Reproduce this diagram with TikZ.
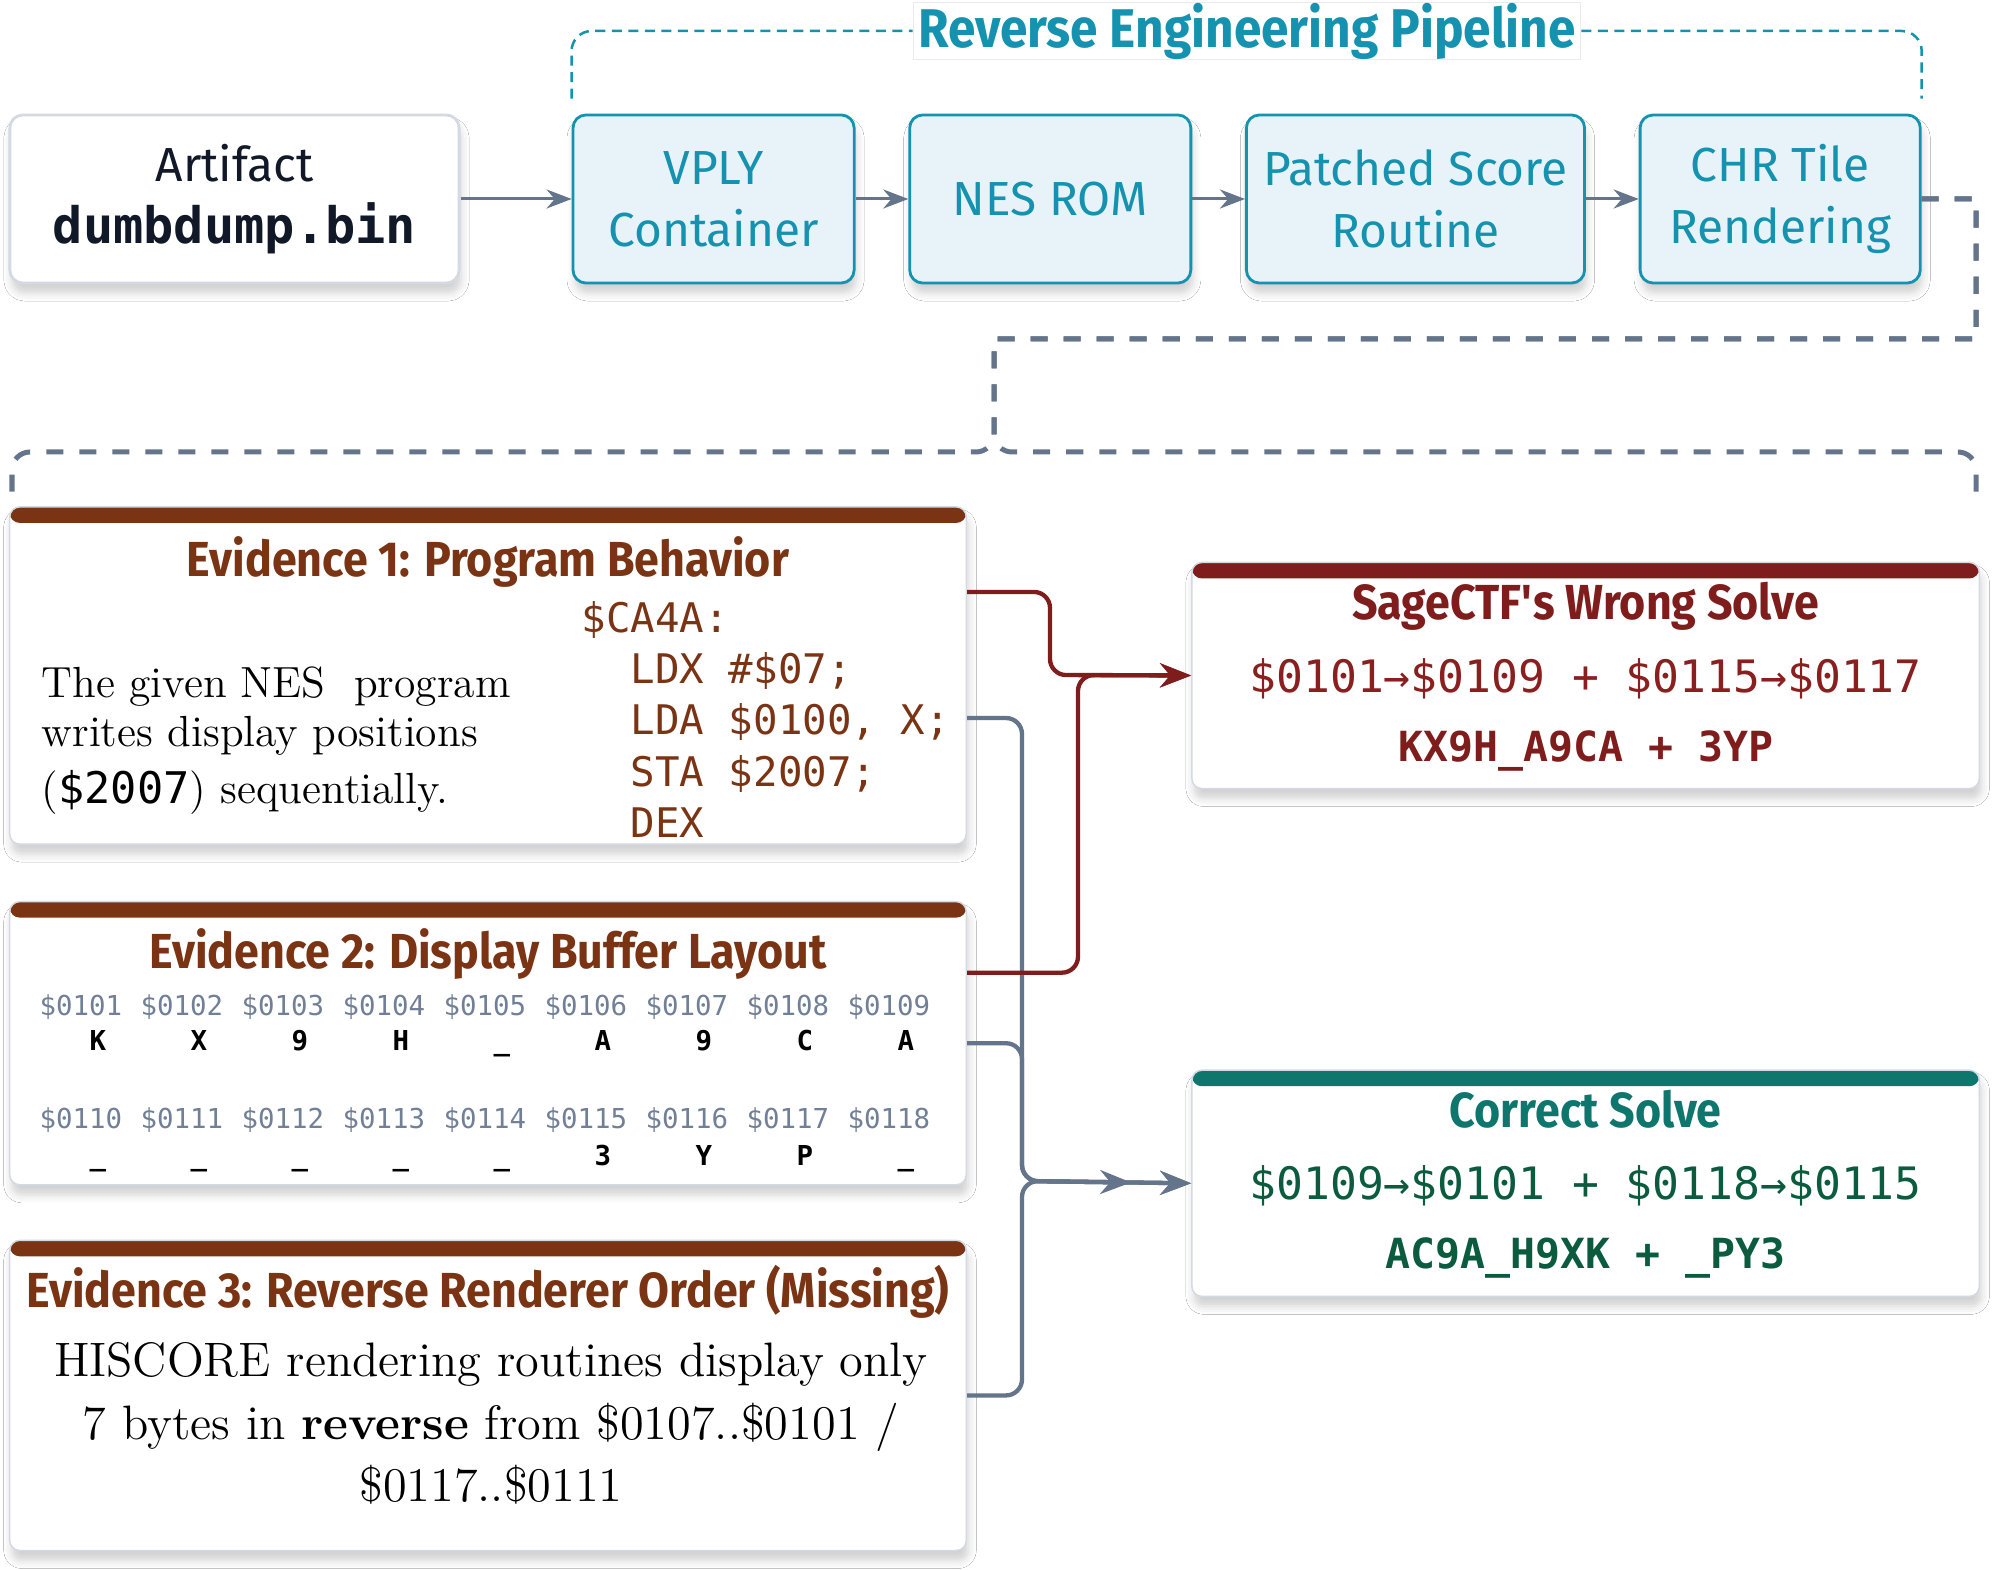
\documentclass[tikz,border=0pt]{standalone}
\usepackage{fontspec}
\setmainfont{Latin Modern Roman}
\setsansfont{Fira Sans}
\setmonofont{DejaVu Sans Mono}
\newfontfamily\headfont[FakeStretch=0.91]{Fira Sans}
\usetikzlibrary{arrows.meta,positioning,calc,shadows.blur}
\definecolor{pipeteal}{HTML}{1592AF}
\definecolor{pipefill}{HTML}{E7F3F8}
\definecolor{linkgray}{HTML}{64748B}
\definecolor{cardline}{HTML}{D3DAE3}
\definecolor{evbrown}{HTML}{7A3413}
\definecolor{wrongred}{HTML}{7F1D1D}
\definecolor{wrongcode}{HTML}{8A1F1F}
\definecolor{rightteal}{HTML}{0F766E}
\definecolor{rightgreen}{HTML}{0B5B3F}
\definecolor{addrgray}{HTML}{718096}
\definecolor{inkdark}{HTML}{111827}

\begin{document}
\begin{tikzpicture}[
 x=0.01cm,y=-0.01cm,
 >=Stealth,font=\sffamily,
 softshadow/.style={blur shadow={shadow xshift=0.02cm,shadow yshift=-0.1cm,
   shadow blur radius=0.08cm,shadow opacity=18}},
 stage/.style={draw=pipeteal,fill=pipefill,line width=0.028cm,rounded corners=0.13cm,
   minimum height=1.68cm,align=center,text=pipeteal,inner sep=0pt,
   font=\sffamily\fontsize{13.6}{17.6}\selectfont,softshadow},
 artbox/.style={stage,draw=cardline,fill=white,text=inkdark},
 card/.style={draw=cardline,fill=white,line width=0.015cm,rounded corners=0.1cm,softshadow,
   path picture={\fill[#1] (path picture bounding box.north west) rectangle
     ([yshift=-0.16cm]path picture bounding box.north east);}},
 cardtitle/.style={anchor=base,inner sep=0pt,font=\headfont\bfseries\fontsize{14}{17}\selectfont},
 pipedash/.style={pipeteal,line width=0.025cm,dash pattern=on 0.1cm off 0.065cm,rounded corners=0.2cm},
 groupdash/.style={linkgray,line width=0.05cm,dash pattern=on 0.17cm off 0.16cm},
 pipeflow/.style={->,linkgray,line width=0.03cm,>={Stealth[length=0.25cm,width=0.19cm]}},
 link/.style={->,line width=0.043cm,rounded corners=0.16cm,>={Stealth[length=0.31cm,width=0.24cm]}},
 addr/.style={anchor=base west,inner sep=0pt,text=addrgray,font=\ttfamily\fontsize{7.8}{9}\selectfont},
 cell/.style={anchor=base,inner sep=0pt,text=black,font=\ttfamily\bfseries\fontsize{7.8}{9}\selectfont}
]
\fill[white] (0,0) rectangle (1999,1570);
\useasboundingbox (0,0) rectangle (1999,1570);

% pipeline row
\node[artbox,minimum width=4.49cm] (artifact) at (234.5,199)
 {Artifact\\{\ttfamily\bfseries\fontsize{14.3}{17.6}\selectfont dumbdump.bin}};
\node[stage,minimum width=2.81cm,right=1.11cm of artifact] (vply) {VPLY\\Container};
\node[stage,minimum width=2.81cm,right=0.527cm of vply] (rom) {NES ROM};
\node[stage,minimum width=3.38cm,right=0.527cm of rom] (patch) {Patched Score\\Routine};
\node[stage,minimum width=2.80cm,right=0.527cm of patch] (chrtile) {CHR Tile\\Rendering};
\draw[pipeflow] (artifact) -- (vply);
\draw[pipeflow] (vply) -- (rom);
\draw[pipeflow] (rom) -- (patch);
\draw[pipeflow] (patch) -- (chrtile);

\node[fill=white,draw=black!8,line width=0.01cm,text=pipeteal,minimum height=0.57cm,
 inner xsep=0.05cm,inner ysep=0pt,font=\headfont\bfseries\fontsize{15.5}{18}\selectfont]
 (pipeline) at (1247,31) {Reverse Engineering Pipeline};
\draw[pipedash] ([yshift=0.15cm]vply.north west) |- (pipeline.west);
\draw[pipedash] (pipeline.east) -| ([yshift=0.15cm]chrtile.north east);

% evidence cards
\node[card=evbrown,minimum width=9.56cm,minimum height=3.37cm] (ev1) at (488,675.5) {};
\node[card=evbrown,minimum width=9.56cm,minimum height=2.83cm,below=0.56cm of ev1] (ev2) {};
\node[card=evbrown,minimum width=9.56cm,minimum height=3.10cm,below=0.54cm of ev2] (ev3) {};
\node[card=wrongred,minimum width=7.87cm,minimum height=2.26cm,right=2.24cm of ev1] (sage) {};
\node[card=rightteal,minimum width=7.87cm,minimum height=2.26cm,below=2.80cm of sage] (correct) {};

\coordinate (dashturn) at (1976,339);
\coordinate (dashdrop) at (994,339);
\coordinate (dashfork) at (994,452);
\coordinate (groupleft) at (12,505);
\coordinate (groupright) at (1976,505);
\draw[groupdash] (chrtile.east) -| (dashturn) -- (dashdrop) [rounded corners=0.18cm] -- (dashfork) -| (groupleft);
\draw[groupdash] (chrtile.east) -| (dashturn) -- (dashdrop) [rounded corners=0.18cm] -- (dashfork) -| (groupright);

\node[cardtitle,text=evbrown] (ev1title) at ($(ev1.north)+(0,70)$) {Evidence 1: Program Behavior};
\node[anchor=base west,inner sep=0pt,font=\rmfamily\fontsize{12.4}{13.95}\selectfont] (ev1text)
 at ($(ev1.north west)+(32,191)$) {\begin{minipage}[t]{4.8cm}
 The given NES~ program\\
 writes display positions\\[0.08cm]
 ({\ttfamily\$2007}) sequentially.
 \end{minipage}};
\node[anchor=base west,inner sep=0pt,text=evbrown,font=\ttfamily\fontsize{11.6}{14.6}\selectfont] (ev1code)
 at ($(ev1.north west)+(572,126)$) {\begin{minipage}[t]{4cm}
 \$CA4A:\\
 \hspace*{0.49cm}LDX \#\$07;\\
 \hspace*{0.49cm}LDA \$0100, X;\\
 \hspace*{0.49cm}STA \$2007;\\
 \hspace*{0.49cm}DEX
 \end{minipage}};

\node[cardtitle,text=evbrown] (ev2title) at ($(ev2.north)+(0,68)$) {Evidence 2: Display Buffer Layout};
\foreach \adr/\ch [count=\i from 0] in {0101/K,0102/X,0103/9,0104/H,0105/\_,0106/A,0107/9,0108/C,0109/A} {
 \node[addr] (topaddr\i) at ($(ev2.north west)+({30+101*\i},115)$) {\$\adr};
 \node[cell] (topcell\i) at ($(ev2.north west)+({89+101*\i},150)$) {\ch};
}
\foreach \adr/\ch [count=\i from 0] in {0110/\_,0111/\_,0112/\_,0113/\_,0114/\_,0115/3,0116/Y,0117/P,0118/\_} {
 \node[addr] (lowaddr\i) at ($(ev2.north west)+({30+101*\i},228)$) {\$\adr};
 \node[cell] (lowcell\i) at ($(ev2.north west)+({89+101*\i},265)$) {\ch};
}

\node[cardtitle,text=evbrown] (ev3title) at ($(ev3.north)+(0,68)$) {Evidence 3: Reverse Renderer Order (Missing)};
\node[anchor=base,inner sep=0pt,font=\rmfamily\fontsize{13.75}{17.8}\selectfont] (ev3text)
 at ($(ev3.north)+(3,137)$) {\begin{minipage}[t]{9.4cm}\centering
 HISCORE rendering routines display only\\
 7 bytes in \textbf{reverse} from \$0107..\$0101 /\\
 \$0117..\$0111
 \end{minipage}};

% solves
\node[cardtitle,text=wrongred] (sagetitle) at ($(sage.north)+(0,58)$) {SageCTF\textquotesingle s Wrong Solve};
\node[anchor=base,inner sep=0pt,text=wrongcode,font=\ttfamily\fontsize{12.7}{15}\selectfont] (sagecode)
 at ($(sage.north)+(0,131)$) {\$0101→\$0109 + \$0115→\$0117};
\node[anchor=base,inner sep=0pt,text=wrongred,font=\ttfamily\bfseries\fontsize{11.8}{14}\selectfont] (sageflag)
 at ($(sage.north)+(0,200)$) {KX9H\_A9CA + 3YP};

\node[cardtitle,text=rightteal] (correcttitle) at ($(correct.north)+(0,58)$) {Correct Solve};
\node[anchor=base,inner sep=0pt,text=rightgreen,font=\ttfamily\fontsize{12.7}{15}\selectfont] (correctcode)
 at ($(correct.north)+(0,130)$) {\$0109→\$0101 + \$0118→\$0115};
\node[anchor=base,inner sep=0pt,text=rightgreen,font=\ttfamily\bfseries\fontsize{11.8}{14}\selectfont] (correctflag)
 at ($(correct.north)+(0,199)$) {AC9A\_H9XK + \_PY3};

% evidence links
\coordinate (graybus) at (1022,1181);
\coordinate (redbus) at (1050,675);
\coordinate (redjoin) at (1078,675);
\draw[link,linkgray] ([yshift=-0.425cm]ev1.east) -| (graybus) -- (correct.west);
\draw[link,linkgray] (ev2.east) -| (graybus) -- (correct.west);
\draw[link,linkgray,shorten >=0.6cm] (ev3.east) -| (graybus) -- (correct.west);
\draw[link,wrongred] ([yshift=0.835cm]ev1.east) -| (redbus) -- (sage.west);
\draw[link,wrongred] ([yshift=0.705cm]ev2.east) -| (redjoin) -- (sage.west);
\end{tikzpicture}
\end{document}
